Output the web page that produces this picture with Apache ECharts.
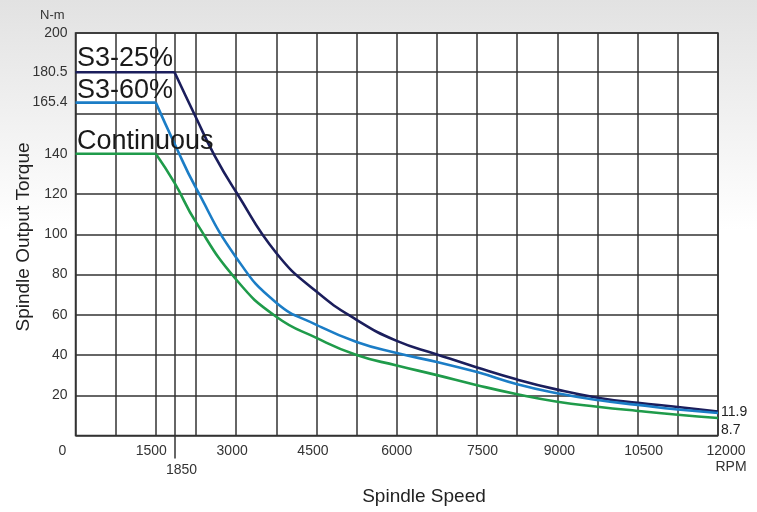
<!DOCTYPE html>
<html>
<head>
<meta charset="utf-8">
<script src="https://cdn.jsdelivr.net/npm/echarts@6/dist/echarts.min.js"></script>
<style>
html,body{margin:0;padding:0;}
#c{width:757px;height:512px;}
</style>
</head>
<body>
<div id="c"></div>
<script>
// ---- data ----
const xTickLabels = [0, 1500, 3000, 4500, 6000, 7500, 9000, 10500, 12000];
const yTickLabels = [20, 40, 60, 80, 100, 120, 140, 165.4, 180.5, 200];
const yGridValues = [0, 20, 40, 60, 80, 100, 120, 140, 160, 180.5, 200];
const baseSpeedMark = [1850];

const s25Speed  = [0, 1850, 2250, 2600, 3000, 3750, 4500, 5250, 6000, 6750, 7500, 8250, 9000, 9750, 10500, 11250, 12000];
const s25Torque = [180.5, 180.5, 158, 139, 121, 90.7, 71.5, 57.5, 47, 40.3, 33.8, 27.8, 22.8, 18.8, 16.2, 14.2, 11.9];

const s60Speed  = [0, 1500, 1850, 2250, 3000, 3750, 4500, 5250, 6000, 6750, 7500, 8250, 9000, 9750, 10500, 11250, 12000];
const s60Torque = [165.4, 165.4, 145, 123, 88.5, 66, 55, 46.5, 41, 36.5, 31.5, 25.5, 21, 17.6, 15.2, 12.9, 11.2];

const contSpeed  = [0, 1500, 1850, 2250, 3000, 3750, 4500, 5250, 6000, 6750, 7500, 8250, 9000, 9750, 10500, 11250, 12000];
const contTorque = [140, 140, 125.5, 106, 77.5, 59, 48.5, 40, 34.8, 30, 25, 20.5, 16.8, 14.3, 12.2, 10.3, 8.7];

const seriesNames = ['S3-25%', 'S3-60%', 'Continuous'];
const endLabels = ['11.9', '8.7'];

// ---- build ----
function pairs(xs, ys) { return xs.map((x, i) => [x, ys[i]]); }
const colors = ['#1b1e5c', '#1b7dc6', '#1f9b4a'];
const sets = [[s25Speed, s25Torque], [s60Speed, s60Torque], [contSpeed, contTorque]];
const series = [];
sets.forEach((s, k) => {
  const p = pairs(s[0], s[1]);
  const lineStyle = { color: colors[k], width: 2.6 };
  series.push({ type: 'line', name: seriesNames[k] + ' flat', data: p.slice(0, 2), showSymbol: false, symbol: 'none', lineStyle, silent: true, z: 5 });
  series.push({ type: 'line', name: seriesNames[k], data: p.slice(1), smooth: 0.5, showSymbol: false, symbol: 'none', lineStyle, silent: true, z: 5 });
});

const gridColor = '#333';
const font = 'Liberation Sans, Arial, sans-serif';
// small horizontal nudges of x labels (px), as in the reference
const labelShift = { 0: -13, 1500: -4.5, 3000: -4, 4500: -3.5, 6000: 0, 7500: 5.5, 9000: 2, 10500: 6, 12000: 8 };
const rich = {};
Object.keys(labelShift).forEach(k => {
  const d = labelShift[k];
  rich['s' + k] = { fontSize: 14, color: '#333', fontFamily: font, padding: d >= 0 ? [0, 0, 0, 2 * d] : [0, -2 * d, 0, 0] };
});

const chart = echarts.init(document.getElementById('c'), null, { renderer: 'canvas' });
chart.setOption({
  animation: false,
  backgroundColor: {
    type: 'linear', x: 0, y: 0, x2: 0, y2: 1,
    colorStops: [{ offset: 0, color: '#e2e2e2' }, { offset: 0.45, color: '#ffffff' }, { offset: 1, color: '#ffffff' }]
  },
  textStyle: { fontFamily: font },
  grid: { left: 75.5, top: 33, right: 39, bottom: 76.5, show: true, backgroundColor: '#fff', borderColor: gridColor, borderWidth: 1.5 },
  xAxis: [{
    type: 'value', min: 0, max: 12000, interval: 750,
    axisLine: { show: false }, axisTick: { show: false },
    axisLabel: {
      customValues: xTickLabels, margin: 9, fontSize: 14, color: '#333', fontFamily: font,
      formatter: v => '{s' + v + '|' + String(v) + '}',
      rich: rich
    },
    splitLine: { show: true, lineStyle: { color: gridColor, width: 1.5 } }
  }, {
    type: 'value', min: 0, max: 12000, position: 'bottom', gridIndex: 0,
    axisLine: { show: false },
    axisTick: { show: true, customValues: baseSpeedMark, length: 23, lineStyle: { color: gridColor, width: 1.5 } },
    axisLabel: {
      customValues: baseSpeedMark, margin: 28, fontSize: 14, color: '#333', fontFamily: font,
      formatter: v => '{b|' + String(v) + '}',
      rich: { b: { fontSize: 14, color: '#333', fontFamily: font, padding: [0, 0, 0, 14] } }
    },
    splitLine: { show: true, lineStyle: { color: gridColor, width: 1.5 } }
  }],
  yAxis: [{
    type: 'value', min: 0, max: 200,
    axisLine: { show: false },
    axisTick: { show: false, customValues: yGridValues },
    axisLabel: { customValues: yTickLabels, margin: 8, fontSize: 14, color: '#333', fontFamily: font },
    splitLine: { show: true, lineStyle: { color: gridColor, width: 1.5 } }
  }],
  series: series,
  graphic: [
    { type: 'text', left: 40, top: 9, style: { text: 'N-m', fontSize: 13, fill: '#333', fontFamily: font } },
    { type: 'text', x: 731, y: 467, style: { text: 'RPM', fontSize: 14, fill: '#333', fontFamily: font, align: 'center', verticalAlign: 'middle' } },
    { type: 'text', x: 424, y: 497, style: { text: 'Spindle Speed', fontSize: 19, fill: '#222', fontFamily: font, align: 'center', verticalAlign: 'middle' } },
    { type: 'text', x: 24, y: 237, rotation: Math.PI / 2, style: { text: 'Spindle Output Torque', fontSize: 19, fill: '#222', fontFamily: font, align: 'center', verticalAlign: 'middle' } },
    { type: 'text', x: 77, y: 59, z: 10, style: { text: seriesNames[0], fontSize: 27, fill: '#1a1a1a', fontFamily: font, align: 'left', verticalAlign: 'middle' } },
    { type: 'text', x: 77, y: 91, z: 10, style: { text: seriesNames[1], fontSize: 27, fill: '#1a1a1a', fontFamily: font, align: 'left', verticalAlign: 'middle' } },
    { type: 'text', x: 77, y: 142, z: 10, style: { text: seriesNames[2], fontSize: 27, fill: '#1a1a1a', fontFamily: font, align: 'left', verticalAlign: 'middle' } },
    { type: 'text', x: 721, y: 412, style: { text: endLabels[0], fontSize: 14, fill: '#222', fontFamily: font, align: 'left', verticalAlign: 'middle' } },
    { type: 'text', x: 721, y: 430, style: { text: endLabels[1], fontSize: 14, fill: '#222', fontFamily: font, align: 'left', verticalAlign: 'middle' } }
  ]
});
</script>
</body>
</html>
